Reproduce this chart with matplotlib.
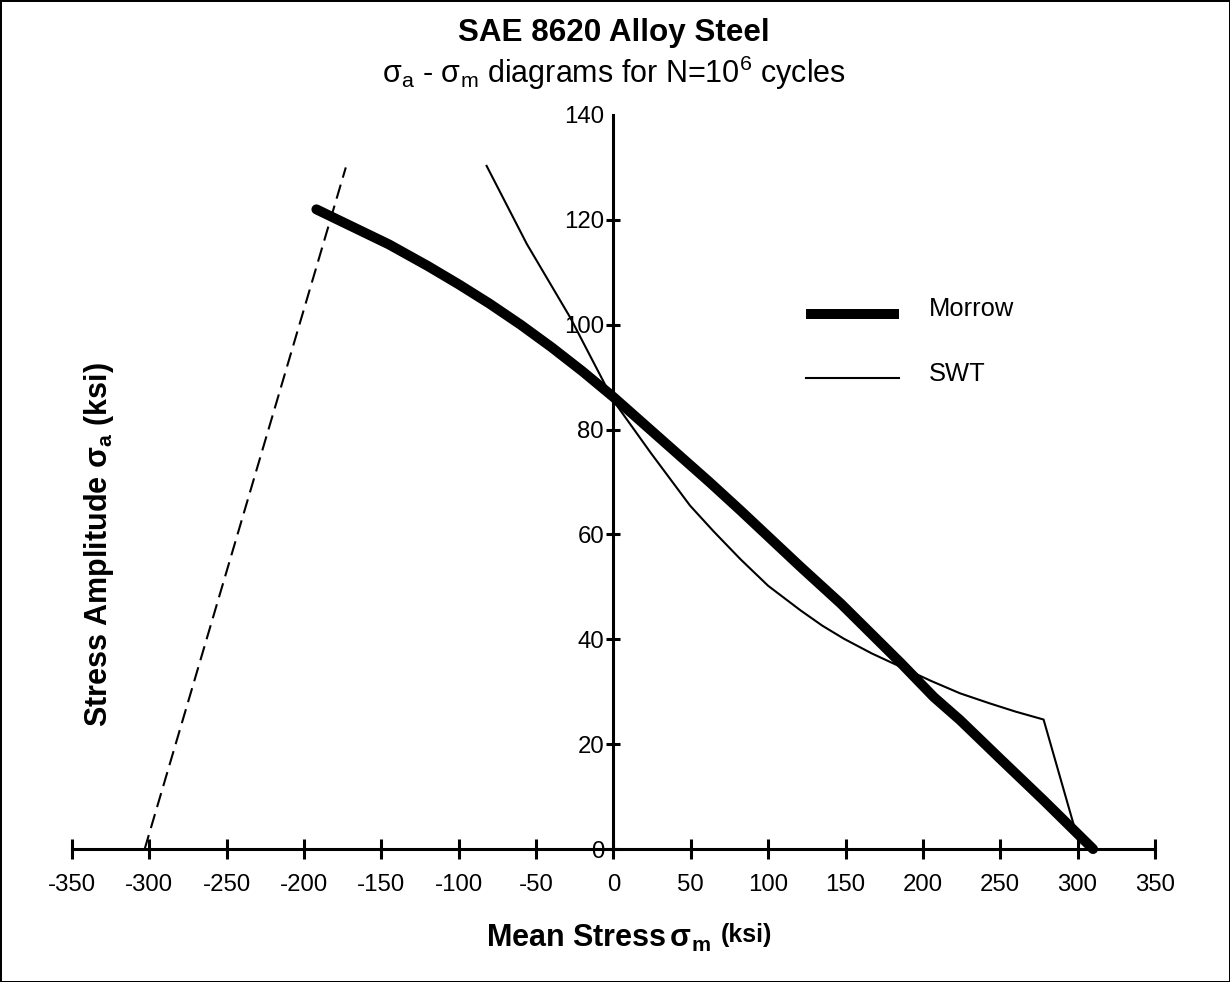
import matplotlib.pyplot as plt
from matplotlib.lines import Line2D
from matplotlib.legend_handler import HandlerLine2D

plt.rcParams['font.family'] = ['Liberation Sans', 'DejaVu Sans']
plt.rcParams['mathtext.fontset'] = 'custom'
plt.rcParams['mathtext.rm'] = 'Liberation Sans'
plt.rcParams['mathtext.it'] = 'Liberation Sans'
plt.rcParams['mathtext.bf'] = 'Liberation Sans:bold'
plt.rcParams['mathtext.default'] = 'regular'
plt.rcParams['axes.unicode_minus'] = False

# Morrow curve (mean stress, stress amplitude) in ksi
morrow_sm = [-192, -145, -120, -100, -80, -60, -40, -20, 0, 62, 82, 121, 147, 186, 207, 224, 250, 278, 310]
morrow_sa = [122, 115.3, 111.2, 107.7, 104.0, 100.0, 95.7, 91.1, 86.2, 70, 64.6, 53.8, 46.8, 35.4, 29, 24.6, 17.2, 9.3, 0]

# SWT curve
swt_sm = [-82, -56, -28, 0, 24, 49.5, 65, 82, 100, 121, 135, 149, 167, 186, 205, 224, 243, 260, 278, 301]
swt_sa = [130.3, 115.4, 101.4, 85.5, 75.6, 65.5, 60.5, 55.3, 50.2, 45.5, 42.6, 40.1, 37.3, 34.7, 32.1, 29.7, 27.8, 26.2, 24.7, 1]

# dashed limit line
limit_sm = [-303, -173]
limit_sa = [0, 130]

xticks = list(range(-350, 351, 50))
yticks = list(range(0, 141, 20))


class LoweredLine(HandlerLine2D):
    # legend keys sit a little below the text centre in the original
    def create_artists(self, legend, orig_handle, xdescent, ydescent, width, height, fontsize, trans):
        arts = super().create_artists(legend, orig_handle, xdescent, ydescent, width, height, fontsize, trans)
        for a in arts:
            a.set_ydata([y - 4.3 for y in a.get_ydata()])
        return arts


fig = plt.figure(figsize=(12.3, 9.82), dpi=100)
fig.patch.set_edgecolor('black')
fig.patch.set_linewidth(2)
ax = fig.add_axes([0.0585, 0.1354, 0.8805, 0.7475])

ax.plot(limit_sm, limit_sa, color='black', lw=1.5, dashes=(7, 3.5), clip_on=False)
ax.plot(swt_sm, swt_sa, color='black', lw=1.5, clip_on=False)
ax.plot(morrow_sm, morrow_sa, color='black', lw=7.2, solid_capstyle='round',
        solid_joinstyle='round', clip_on=False)

ax.set_xlim(-350, 350)
ax.set_ylim(0, 140)
ax.spines['left'].set_position(('data', 0))
ax.spines['top'].set_visible(False)
ax.spines['right'].set_visible(False)
ax.spines['left'].set_linewidth(2.2)
ax.spines['bottom'].set_linewidth(2.2)

ax.set_xticks(xticks)
ax.set_yticks(yticks)
ax.tick_params(axis='x', direction='inout', length=14, width=2.2, pad=11, labelsize=17.3)
ax.tick_params(axis='y', direction='inout', length=9.5, width=2.2, pad=2, labelsize=17.3)
ax.yaxis.get_major_ticks()[-1].tick1line.set_visible(False)

handles = [Line2D([], [], color='black', lw=7.2, solid_capstyle='butt'),
           Line2D([], [], color='black', lw=1.5)]
ax.legend(handles, ['Morrow', 'SWT'], loc='upper left', bbox_to_anchor=(0.6777, 0.7514),
          frameon=False, fontsize=18.4, handlelength=3.65, handletextpad=1.16,
          labelspacing=1.59, borderpad=0, borderaxespad=0,
          handler_map={Line2D: LoweredLine()})

fig.text(0.4988, 0.966, 'SAE 8620 Alloy Steel', ha='center', va='center',
         fontsize=22.6, fontweight='bold')
fig.text(0.4988, 0.9257, r'$\sigma_a$ - $\sigma_m$ diagrams for N=10$^6$ cycles',
         ha='center', va='center', fontsize=22)

# x label: "(ksi)" is smaller and raised in the original
xl = fig.text(0.395, 0.0356, r'Mean Stress$\,\sigma_m$', ha='left', va='baseline',
              fontsize=22, fontweight='bold')
ax.annotate('(ksi)', xy=(1, 0), xycoords=xl, xytext=(7, 5), textcoords='offset points',
            ha='left', va='bottom', fontsize=18, fontweight='bold', annotation_clip=False)

fig.text(0.0805, 0.445, r'Stress Amplitude $\sigma_a$ (ksi)', ha='center', va='center',
         rotation=90, fontsize=22, fontweight='bold')

fig.savefig('out.png', dpi=100, edgecolor=fig.get_edgecolor())
